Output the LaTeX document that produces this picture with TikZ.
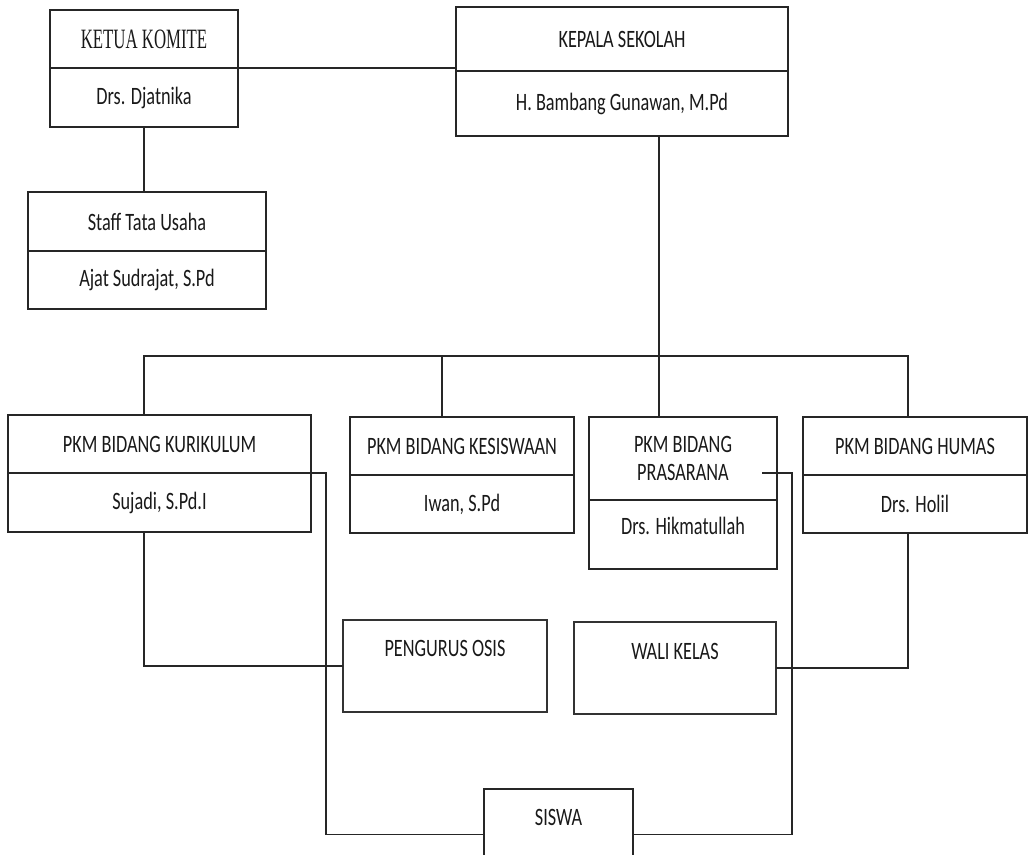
\documentclass[tikz,border=0pt]{standalone}
\usepackage{fontspec}
\setmainfont{Carlito}[FakeStretch=0.73]
\newfontfamily\komitefont{Liberation Serif}[FakeStretch=0.6]
\tikzset{
	cell/.style={draw=black!85,line width=1.6pt,inner sep=0,outer sep=0,font=\fontsize{25}{28}\selectfont,text=black!90,align=center},
	note/.style={draw=black!80,line width=1.1pt,inner sep=0,outer sep=0},
	wire/.style={draw=black!85,line width=1.6pt}
}
\begin{document}
	\begin{tikzpicture}[x=1pt,y=-1pt]
		\useasboundingbox (0,0) rectangle (1028,854);
		\clip (0,0) rectangle (1028,854);
		\node[cell,minimum width=188,minimum height=58,font=\komitefont\fontsize{28}{30}\selectfont] (komT) at (144,39) {KETUA KOMITE};
		\node[cell,minimum width=188,minimum height=59] (komB) at (144,97.5) {Drs. Djatnika};
		\node[cell,minimum width=332,minimum height=64] (kepT) at (622,39) {KEPALA SEKOLAH};
		\node[cell,minimum width=332,minimum height=65] (kepB) at (622,103.5) {H. Bambang Gunawan, M.Pd};
		\node[cell,minimum width=238,minimum height=59] (stfT) at (147,221.5) {Staff Tata Usaha};
		\node[cell,minimum width=238,minimum height=58] (stfB) at (147,280) {Ajat Sudrajat, S.Pd};
		\node[cell,minimum width=303,minimum height=58] (kurT) at (159.5,444) {PKM BIDANG KURIKULUM};
		\node[cell,minimum width=303,minimum height=59] (kurB) at (159.5,502.5) {Sujadi, S.Pd.I};
		\node[cell,minimum width=224,minimum height=58] (kesT) at (462,446) {PKM BIDANG KESISWAAN};
		\node[cell,minimum width=224,minimum height=58] (kesB) at (462,504) {Iwan, S.Pd};
		\node[cell,minimum width=188,minimum height=83] (praT) at (683,458.5) {PKM BIDANG\\PRASARANA};
		\node[cell,minimum width=188,minimum height=69,text depth=18pt] (praB) at (683,534.5) {Drs. Hikmatullah};
		\node[cell,minimum width=224,minimum height=58] (humT) at (915,446) {PKM BIDANG HUMAS};
		\node[cell,minimum width=224,minimum height=58] (humB) at (915,504) {Drs. Holil};
		\node[note,minimum width=204,minimum height=92,label={[cell,draw=none,anchor=center,yshift=-28]north:PENGURUS OSIS}] (osis) at (445,666) {};
		\node[note,minimum width=202,minimum height=92,label={[cell,draw=none,anchor=center,yshift=-29]north:WALI KELAS}] (wali) at (675,668) {};
		\node[cell,minimum width=149,minimum height=91,label={[cell,draw=none,anchor=center,yshift=-28]north:SISWA}] (siswa) at (558.5,834.5) {};
		\coordinate (spine) at (659,356);
		\coordinate (busL) at (144,356);
		\coordinate (busK) at (442,356);
		\coordinate (busR) at (908,356);
		\coordinate (praTap) at (762,473);
		\draw[wire] (komB.north east) -- (komB.north east -| kepB.west);
		\draw[wire] (busL |- komB.south) -- (busL |- stfT.north);
		\draw[wire] (spine |- kepB.south) -- (spine) -- (spine |- praT.north);
		\draw[wire] (busL |- kurT.north) -- (busL) -- (busR) -- (busR |- humT.north);
		\draw[wire] (busK) -- (busK |- kesT.north);
		\draw[wire] (busL |- kurB.south) |- (osis.west);
		\draw[wire] (busR |- humB.south) |- (wali.east);
		\draw[wire] (kurT.south east) -- ++(15,0) |- (siswa.west);
		\draw[wire] (praTap) -- ++(30,0) |- (siswa.east);
	\end{tikzpicture}
\end{document}
